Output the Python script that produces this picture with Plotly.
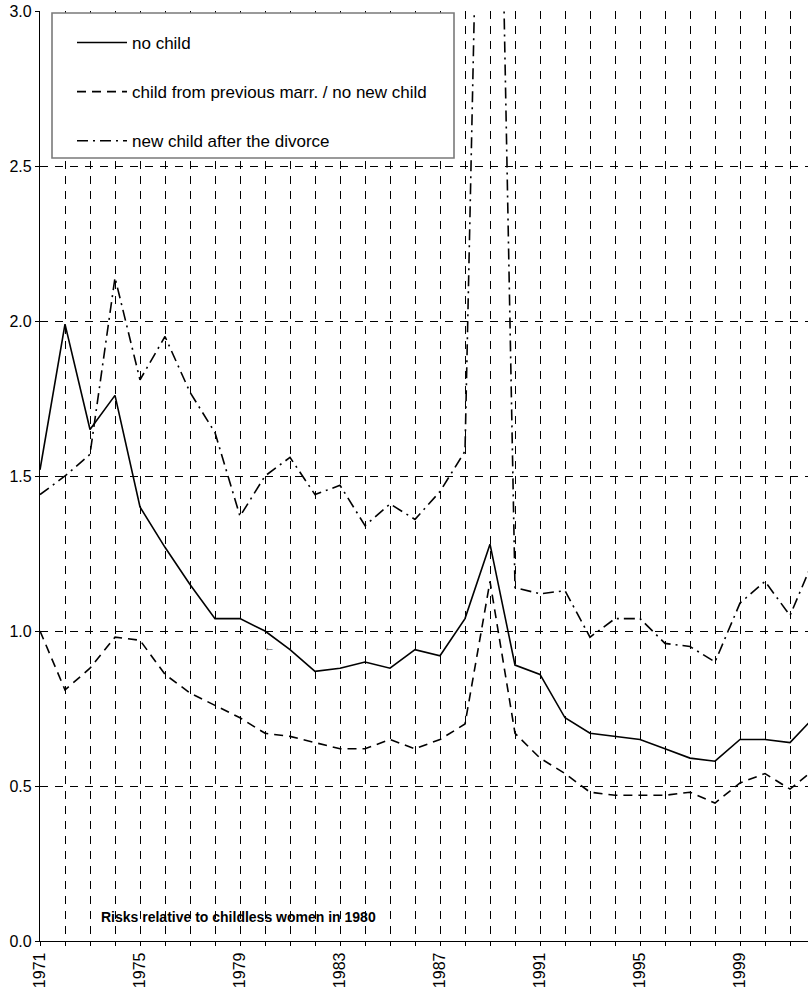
import plotly.graph_objects as go

years = list(range(1971, 2003))

no_child = [1.52, 1.99, 1.65, 1.76, 1.40, 1.27, 1.15, 1.04, 1.04, 1.00,
            0.94, 0.87, 0.88, 0.90, 0.88, 0.94, 0.92, 1.04, 1.28, 0.89,
            0.86, 0.72, 0.67, 0.66, 0.65, 0.62, 0.59, 0.58, 0.65, 0.65,
            0.64, 0.725]

child_prev = [1.00, 0.81, 0.88, 0.98, 0.97, 0.86, 0.80, 0.76, 0.72, 0.67,
              0.66, 0.64, 0.62, 0.62, 0.65, 0.62, 0.65, 0.70, 1.16, 0.67,
              0.59, 0.54, 0.48, 0.47, 0.47, 0.47, 0.48, 0.445, 0.51, 0.54,
              0.49, 0.555]

new_child = [1.44, 1.50, 1.57, 2.14, 1.81, 1.95, 1.77, 1.64, 1.37, 1.50,
             1.56, 1.44, 1.47, 1.34, 1.41, 1.36, 1.45, 1.58, 5.40, 1.14,
             1.12, 1.13, 0.98, 1.04, 1.04, 0.96, 0.95, 0.90, 1.09, 1.16,
             1.05, 1.24]

series_names = ["no child",
                "child from previous marr. / no new child",
                "new child after the divorce"]

grid_years = list(range(1971, 2002))
year_labels = [str(y) if (y - 1971) % 4 == 0 else "" for y in grid_years]
y_ticks = [0.0, 0.5, 1.0, 1.5, 2.0, 2.5, 3.0]

note_text = "Risks relative to childless women in 1980"

FONT = "Liberation Sans, Arial, sans-serif"

fig = go.Figure()
styles = [
    dict(color="black", width=1.6, dash="solid"),
    dict(color="black", width=1.6, dash="9px,6px"),
    dict(color="black", width=1.6, dash="11px,5px,2px,5px"),
]
for i, (name, vals) in enumerate(zip(series_names, [no_child, child_prev, new_child])):
    fig.add_trace(go.Scatter(
        x=years, y=vals, mode="lines", name=name,
        line=styles[i], legendgroup=f"g{i}",
        showlegend=True,
    ))

# plot area pixel geometry
L, T, W, H = 40, 11, 768, 930


def px_x(p):
    return (p - L) / W


def px_y(p):
    return 1 - (p - T) / H


fig.add_shape(type="rect", xref="paper", yref="paper",
              x0=px_x(52), x1=px_x(454), y0=px_y(158), y1=px_y(13),
              line=dict(color="#7a7a7a", width=1.6), fillcolor="white",
              layer="above")

fig.add_annotation(x=1978.92, y=0.077, xref="x", yref="y", text=f"<b>{note_text}</b>",
                   showarrow=False, font=dict(family=FONT, size=14, color="black"))
fig.add_annotation(x=1980.16, y=0.95, xref="x", yref="y", text="←",
                   showarrow=False, font=dict(family=FONT, size=11, color="#333"))

fig.update_layout(
    width=808, height=994,
    margin=dict(l=L, r=808 - L - W, t=T, b=994 - T - H, pad=0),
    paper_bgcolor="white", plot_bgcolor="white",
    font=dict(family=FONT, size=16, color="black"),
    showlegend=True,
    legend=dict(
        x=px_x(72), y=px_y(25), xanchor="left", yanchor="top",
        bgcolor="rgba(0,0,0,0)", borderwidth=0,
        font=dict(family=FONT, size=17, color="black"),
        itemwidth=50, tracegroupgap=24, traceorder="grouped",
    ),
    xaxis=dict(
        range=[1971, 1971 + W / 25.0], tickmode="array",
        tickvals=grid_years, ticktext=year_labels, tickangle=-90,
        showgrid=True, gridcolor="black", gridwidth=1, griddash="8px,7px",
        showline=True, linecolor="black", linewidth=1.3,
        ticks="outside", ticklen=4, tickcolor="black", tickwidth=1,
        zeroline=False, automargin=False,
        tickfont=dict(family=FONT, size=16, color="black"),
    ),
    yaxis=dict(
        range=[0, 3], tickmode="array", tickvals=y_ticks,
        ticktext=[f"{v:.1f}" for v in y_ticks],
        showgrid=True, gridcolor="black", gridwidth=1, griddash="8px,7px",
        showline=True, linecolor="black", linewidth=1.3,
        ticks="outside", ticklen=4, tickcolor="black", tickwidth=1,
        zeroline=False, automargin=False,
        tickfont=dict(family=FONT, size=16, color="black"),
    ),
)

fig.write_html("out.html", config={"displayModeBar": False},
               post_script="document.body.style.margin='0';document.body.style.padding='0';")
